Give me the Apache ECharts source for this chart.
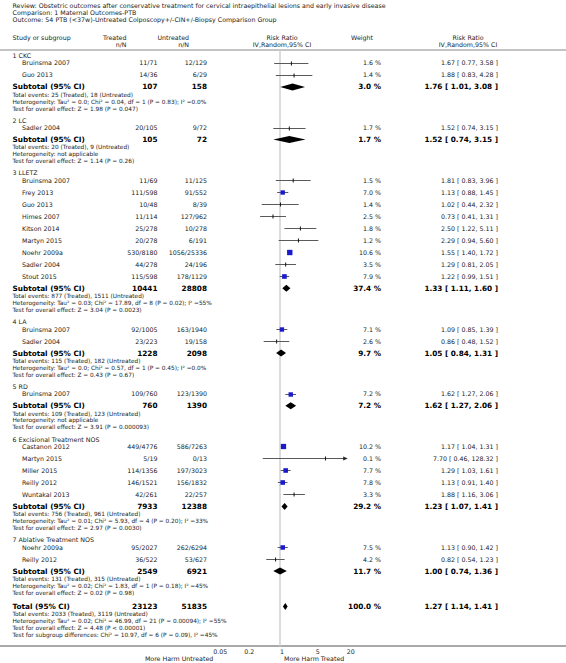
<!DOCTYPE html>
<html><head><meta charset="utf-8">
<script src="https://cdn.jsdelivr.net/npm/echarts@6/dist/echarts.min.js"></script>
<style>html,body{margin:0;padding:0;background:#fff}#c{width:566px;height:663px}</style>
</head><body><div id="c"></div>
<script>
// ---------------- DATA ----------------
const titleLines = [
  "Review: Obstetric outcomes after conservative treatment for cervical intraepithelial lesions and early invasive disease",
  "Comparison: 1 Maternal Outcomes-PTB",
  "Outcome: 54 PTB (<37w)-Untreated Colposcopy+/-CIN+/-Biopsy Comparison Group"
];
const groupNames = ["1 CKC", "2 LC", "3 LLETZ", "4 LA", "5 RD", "6 Excisional Treatment NOS", "7 Ablative Treatment NOS"];
const studyGroup = [0,0, 1, 2,2,2,2,2,2,2,2,2, 3,3, 4, 5,5,5,5,5, 6,6];
const studyNames = ["Bruinsma 2007","Guo 2013",
  "Sadler 2004",
  "Bruinsma 2007","Frey 2013","Guo 2013","Himes 2007","Kitson 2014","Martyn 2015","Noehr 2009a","Sadler 2004","Stout 2015",
  "Bruinsma 2007","Sadler 2004",
  "Bruinsma 2007",
  "Castanon 2012","Martyn 2015","Miller 2015","Reilly 2012","Wuntakal 2013",
  "Noehr 2009a","Reilly 2012"];
const treatedNN = ["11/71","14/36","20/105","11/69","111/598","10/48","11/114","25/278","20/278","530/8180","44/278","115/598",
  "92/1005","23/223","109/760","449/4776","5/19","114/1356","146/1521","42/261","95/2027","36/522"];
const untreatedNN = ["12/129","6/29","9/72","11/125","91/552","8/39","127/962","10/278","6/191","1056/25336","24/196","178/1129",
  "163/1940","19/158","123/1390","586/7263","0/13","197/3023","156/1832","22/257","262/6294","53/627"];
const studyWeight = [1.6,1.4,1.7,1.5,7.0,1.4,2.5,1.8,1.2,10.6,3.5,7.9,7.1,2.6,7.2,10.2,0.1,7.7,7.8,3.3,7.5,4.2];
const studyRR = [1.67,1.88,1.52,1.81,1.13,1.02,0.73,2.50,2.29,1.55,1.29,1.22,1.09,0.86,1.62,1.17,7.70,1.29,1.13,1.88,1.13,0.82];
const studyLo = [0.77,0.83,0.74,0.83,0.88,0.44,0.41,1.22,0.94,1.40,0.81,0.99,0.85,0.48,1.27,1.04,0.46,1.03,0.91,1.16,0.90,0.54];
const studyHi = [3.58,4.28,3.15,3.96,1.45,2.32,1.31,5.11,5.60,1.72,2.05,1.51,1.39,1.52,2.06,1.31,128.32,1.61,1.40,3.06,1.42,1.23];

const subTreated = [107, 105, 10441, 1228, 760, 7933, 2549];
const subUntreated = [158, 72, 28808, 2098, 1390, 12388, 6921];
const subWeight = [3.0, 1.7, 37.4, 9.7, 7.2, 29.2, 11.7];
const subRR = [1.76, 1.52, 1.33, 1.05, 1.62, 1.23, 1.00];
const subLo = [1.01, 0.74, 1.11, 0.84, 1.27, 1.07, 0.74];
const subHi = [3.08, 3.15, 1.60, 1.31, 2.06, 1.41, 1.36];
const subEvents = [
  "Total events: 25 (Treated), 18 (Untreated)",
  "Total events: 20 (Treated), 9 (Untreated)",
  "Total events: 877 (Treated), 1511 (Untreated)",
  "Total events: 115 (Treated), 182 (Untreated)",
  "Total events: 109 (Treated), 123 (Untreated)",
  "Total events: 756 (Treated), 961 (Untreated)",
  "Total events: 131 (Treated), 315 (Untreated)"];
const subHet = [
  "Heterogeneity: Tau\u00b2 = 0.0; Chi\u00b2 = 0.04, df = 1 (P = 0.83); I\u00b2 =0.0%",
  "Heterogeneity: not applicable",
  "Heterogeneity: Tau\u00b2 = 0.03; Chi\u00b2 = 17.89, df = 8 (P = 0.02); I\u00b2 =55%",
  "Heterogeneity: Tau\u00b2 = 0.0; Chi\u00b2 = 0.57, df = 1 (P = 0.45); I\u00b2 =0.0%",
  "Heterogeneity: not applicable",
  "Heterogeneity: Tau\u00b2 = 0.01; Chi\u00b2 = 5.93, df = 4 (P = 0.20); I\u00b2 =33%",
  "Heterogeneity: Tau\u00b2 = 0.02; Chi\u00b2 = 1.83, df = 1 (P = 0.18); I\u00b2 =45%"];
const subTest = [
  "Test for overall effect: Z = 1.98 (P = 0.047)",
  "Test for overall effect: Z = 1.14 (P = 0.26)",
  "Test for overall effect: Z = 3.04 (P = 0.0023)",
  "Test for overall effect: Z = 0.43 (P = 0.67)",
  "Test for overall effect: Z = 3.91 (P = 0.000093)",
  "Test for overall effect: Z = 2.97 (P = 0.0030)",
  "Test for overall effect: Z = 0.02 (P = 0.98)"];

const totalTreated = 23123, totalUntreated = 51835, totalWeight = 100.0;
const totalRR = 1.27, totalLo = 1.14, totalHi = 1.41;
const totalInfo = [
  "Total events: 2033 (Treated), 3119 (Untreated)",
  "Heterogeneity: Tau\u00b2 = 0.02; Chi\u00b2 = 46.99, df = 21 (P = 0.00094); I\u00b2 =55%",
  "Test for overall effect: Z = 4.48 (P < 0.00001)",
  "Test for subgroup differences: Chi\u00b2 = 10.97, df = 6 (P = 0.09), I\u00b2 =45%"];
const axisTicks = [0.05, 0.2, 1, 5, 20];
const axisTickLabels = ["0.05", "0.2", "1", "5", "20"];
const favourLeft = "More Harm Untreated", favourRight = "More Harm Treated";

// ---------------- LAYOUT ----------------
const FONT = "'DejaVu Sans', Verdana, sans-serif";
const L = {
  xLeft: 12.5, xStudy: 22, xTreat: 157.5, xUntreat: 207, xWeight: 381, xCI: 498,
  hdrTreat: 126.5, hdrUntreat: 189, hdrForest: 282, hdrWeight: 362, hdrCI: 468,
  titleY: [5.5, 12.5, 19.5], headY: [37.5, 44], ruleY: 50, firstY: 55.5,
  h1: 7.4, s: 12, d1: 7.8, d: 6.9, g: 11.7, G: 13.7, axisY: 646,
  plotLeft: 213.3, plotWidth: 133.4,
  fsTitle: 6.3, fsHead: 6.3, fsRow: 6.3, fsBold: 7.3, fsInfo: 5.8, fsAxis: 6.3
};
const X_MIN = axisTicks[0], X_MAX = axisTicks[axisTicks.length - 1];

const fmtCI = (r, lo, hi) => r.toFixed(2) + " [ " + lo.toFixed(2) + ", " + hi.toFixed(2) + " ]";
const fmtW = w => w.toFixed(1) + " %";

const graphics = [];
function txt(text, x, y, size, align, bold, color) {
  graphics.push({type: 'text', x: x, y: y, silent: true,
    style: {text: text, fontSize: size, fontFamily: FONT, fontWeight: bold ? 'bold' : 'normal',
      fill: color || (bold ? '#000' : '#222'), align: align || 'left', verticalAlign: 'middle'}});
}

// titles and headers
titleLines.forEach((t, i) => txt(t, L.xLeft, L.titleY[i], L.fsTitle));
txt("Study or subgroup", L.xLeft, L.headY[0], L.fsHead);
txt("Treated", L.hdrTreat, L.headY[0], L.fsHead, 'right');
txt("n/N", L.hdrTreat, L.headY[1], L.fsHead, 'right');
txt("Untreated", L.hdrUntreat, L.headY[0], L.fsHead, 'right');
txt("n/N", L.hdrUntreat, L.headY[1], L.fsHead, 'right');
txt("Risk Ratio", L.hdrForest, L.headY[0], L.fsHead, 'center');
txt("IV,Random,95% CI", L.hdrForest, L.headY[1], L.fsHead, 'center');
txt("Weight", L.hdrWeight, L.headY[0], L.fsHead, 'center');
txt("Risk Ratio", L.hdrCI, L.headY[0], L.fsHead, 'center');
txt("IV,Random,95% CI", L.hdrCI, L.headY[1], L.fsHead, 'center');

// rows
const studyData = [], diamondData = [];
let y = L.firstY;
groupNames.forEach((gname, gi) => {
  txt(gname, L.xLeft, y, L.fsRow);
  let first = true;
  studyGroup.forEach((g, k) => {
    if (g !== gi) return;
    y += first ? L.h1 : L.s; first = false;
    txt(studyNames[k], L.xStudy, y, L.fsRow);
    txt(treatedNN[k], L.xTreat, y, L.fsRow, 'right');
    txt(untreatedNN[k], L.xUntreat, y, L.fsRow, 'right');
    txt(fmtW(studyWeight[k]), L.xWeight, y, L.fsRow, 'right');
    txt(fmtCI(studyRR[k], studyLo[k], studyHi[k]), L.xCI, y, L.fsRow, 'right');
    studyData.push([studyLo[k], studyHi[k], studyRR[k], y, studyWeight[k]]);
  });
  y += L.s;
  txt("Subtotal (95% CI)", L.xLeft, y, L.fsBold, 'left', true);
  txt(String(subTreated[gi]), L.xTreat, y, L.fsBold, 'right', true);
  txt(String(subUntreated[gi]), L.xUntreat, y, L.fsBold, 'right', true);
  txt(fmtW(subWeight[gi]), L.xWeight, y, L.fsBold, 'right', true);
  txt(fmtCI(subRR[gi], subLo[gi], subHi[gi]), L.xCI, y, L.fsBold, 'right', true);
  diamondData.push([subLo[gi], subHi[gi], subRR[gi], y]);
  y += L.d1; txt(subEvents[gi], L.xLeft, y, L.fsInfo);
  y += L.d; txt(subHet[gi], L.xLeft, y, L.fsInfo);
  y += L.d; txt(subTest[gi], L.xLeft, y, L.fsInfo);
  y += (gi < groupNames.length - 1) ? L.g : L.G;
});
txt("Total (95% CI)", L.xLeft, y, L.fsBold, 'left', true);
txt(String(totalTreated), L.xTreat, y, L.fsBold, 'right', true);
txt(String(totalUntreated), L.xUntreat, y, L.fsBold, 'right', true);
txt(fmtW(totalWeight), L.xWeight, y, L.fsBold, 'right', true);
txt(fmtCI(totalRR, totalLo, totalHi), L.xCI, y, L.fsBold, 'right', true);
diamondData.push([totalLo, totalHi, totalRR, y]);
y += L.d1;
totalInfo.forEach((t, i) => { txt(t, L.xLeft, y + i * L.d, L.fsInfo); });

// rules
graphics.push({type: 'line', silent: true, shape: {x1: 0, y1: L.ruleY, x2: 566, y2: L.ruleY}, style: {stroke: '#8a8a8a', lineWidth: 1.2}});
graphics.push({type: 'line', silent: true, shape: {x1: 0, y1: L.axisY, x2: 566, y2: L.axisY}, style: {stroke: '#555', lineWidth: 1}});
txt(favourLeft, L.plotLeft, L.axisY + 12.5, L.fsAxis, 'right');
txt(favourRight, L.plotLeft + L.plotWidth * 0.53, L.axisY + 12.5, L.fsAxis, 'left');

// ---------------- CHART ----------------
const chart = echarts.init(document.getElementById('c'), null, {renderer: 'svg'});
function tickLabel(v) {
  let best = 0, bd = Infinity;
  axisTicks.forEach((t, i) => { const dd = Math.abs(Math.log(v) - Math.log(t)); if (dd < bd) { bd = dd; best = i; } });
  return axisTickLabels[best];
}
chart.setOption({
  animation: false,
  backgroundColor: '#fff',
  grid: {left: L.plotLeft, width: L.plotWidth, top: 0, height: L.axisY, containLabel: false, outerBoundsMode: 'none'},
  xAxis: {
    type: 'log', logBase: 10, min: X_MIN, max: X_MAX,
    axisLine: {show: false}, splitLine: {show: false}, minorTick: {show: false},
    axisTick: {show: true, inside: true, length: 3, customValues: axisTicks, lineStyle: {color: '#444', width: 1}},
    axisLabel: {customValues: axisTicks, align: 'left', margin: 2, fontSize: L.fsAxis, fontFamily: FONT, color: '#222',
      formatter: v => tickLabel(v), showMinLabel: true, showMaxLabel: true}
  },
  yAxis: {type: 'value', min: 0, max: L.axisY, inverse: true, show: false},
  graphic: graphics,
  series: [
    {
      type: 'line', silent: true, symbol: 'none', z: 1,
      data: [[1, L.ruleY], [1, L.axisY]],
      lineStyle: {color: '#d0d0d0', width: 1.5}
    },
    {
      type: 'custom', silent: true, z: 3, clip: false,
      encode: {x: [0, 1, 2], y: 3},
      data: studyData,
      renderItem: function (params, api) {
        const lo = api.value(0), hi = api.value(1), est = api.value(2), yv = api.value(3), w = api.value(4);
        const p1 = api.coord([Math.max(lo, X_MIN), yv]);
        const p2 = api.coord([Math.min(hi, X_MAX), yv]);
        const pe = api.coord([est, yv]);
        const yy = Math.round(pe[1]) + 0.5;
        const ch = [{type: 'line', shape: {x1: p1[0], y1: yy, x2: p2[0], y2: yy}, style: {stroke: '#5a5a5a', lineWidth: 1}}];
        if (hi > X_MAX) ch.push({type: 'polygon', shape: {points: [[p2[0] + 1, yy], [p2[0] - 3.5, yy - 2], [p2[0] - 3.5, yy + 2]]}, style: {fill: '#222'}});
        if (lo < X_MIN) ch.push({type: 'polygon', shape: {points: [[p1[0] - 1, yy], [p1[0] + 3.5, yy - 2], [p1[0] + 3.5, yy + 2]]}, style: {fill: '#222'}});
        const side = 1.65 * Math.sqrt(w);
        if (w >= 5) {
          ch.push({type: 'rect', shape: {x: pe[0] - side / 2, y: yy - side / 2, width: side, height: side}, style: {fill: '#1a1acc'}});
        } else {
          ch.push({type: 'line', shape: {x1: pe[0], y1: yy - 2, x2: pe[0], y2: yy + 2}, style: {stroke: '#111', lineWidth: 1}});
        }
        return {type: 'group', children: ch};
      }
    },
    {
      type: 'custom', silent: true, z: 3, clip: false,
      encode: {x: [0, 1, 2], y: 3},
      data: diamondData,
      renderItem: function (params, api) {
        const pl = api.coord([api.value(0), api.value(3)]);
        const ph = api.coord([api.value(1), api.value(3)]);
        const pe = api.coord([api.value(2), api.value(3)]);
        const h = 3.5;
        return {type: 'polygon', shape: {points: [[pl[0], pe[1]], [pe[0], pe[1] - h], [ph[0], pe[1]], [pe[0], pe[1] + h]]},
          style: {fill: '#000'}};
      }
    }
  ]
});
</script>
</body></html>
